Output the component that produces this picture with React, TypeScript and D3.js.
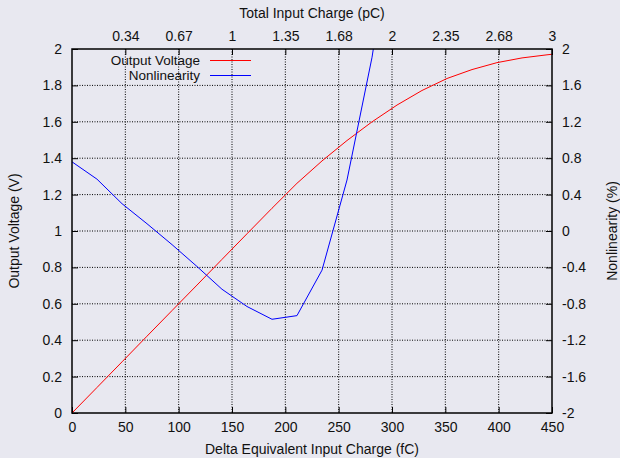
import { useEffect, useRef } from 'react'
import * as d3 from 'd3'

// bottom axis: delta equivalent input charge (fC)
const xTicks = [0, 50, 100, 150, 200, 250, 300, 350, 400, 450]
// top axis labels (pC), placed on the bottom ticks 50..450
const topLabels = ['0.34', '0.67', '1', '1.35', '1.68', '2', '2.35', '2.68', '3']

// Output Voltage (V)
const voltX = [0, 23.4, 46.9, 70.3, 93.8, 117.2, 140.6, 164.1, 187.5, 210.9, 234.4, 257.8, 281.3, 304.7, 328.1, 351.6, 375, 398.4, 421.9, 445.3, 450]
const voltY = [0, 0.14, 0.281, 0.422, 0.563, 0.703, 0.844, 0.985, 1.125, 1.262, 1.385, 1.497, 1.6, 1.692, 1.772, 1.838, 1.887, 1.925, 1.951, 1.968, 1.971]

// Nonlinearity (%)
const nlX = [0, 23.4, 46.9, 70.3, 93.8, 117.2, 140.6, 164.1, 187.5, 210.9, 234.4, 257.8, 281.3, 304.7]
const nlY = [0.76, 0.57, 0.30, 0.08, -0.15, -0.39, -0.64, -0.83, -0.97, -0.93, -0.43, 0.56, 1.91, 3.7]

const yTicks = [0, 0.2, 0.4, 0.6, 0.8, 1, 1.2, 1.4, 1.6, 1.8, 2]
const y2Ticks = [-2, -1.6, -1.2, -0.8, -0.4, 0, 0.4, 0.8, 1.2, 1.6, 2]

const W = 620
const H = 458
const FONT = '"Liberation Sans", Arial, sans-serif'

export default function App() {
  const svgRef = useRef<SVGSVGElement>(null)

  useEffect(() => {
    if (!svgRef.current) return
    const m = { top: 49, right: 68, bottom: 45, left: 72 }
    const w = W - m.left - m.right
    const h = H - m.top - m.bottom

    const svg = d3.select(svgRef.current)
    svg.selectAll('*').remove()

    svg.append('rect').attr('width', W).attr('height', H).attr('fill', '#e8e8f0')

    const g = svg.append('g').attr('transform', `translate(${m.left},${m.top})`)

    const x = d3.scaleLinear().domain([0, 450]).range([0, w])
    const y = d3.scaleLinear().domain([0, 2]).range([h, 0])
    const y2 = d3.scaleLinear().domain([-2, 2]).range([h, 0])

    svg.append('clipPath').attr('id', 'plot-clip')
      .append('rect').attr('width', w).attr('height', h)

    // dotted grid
    g.append('g').selectAll('line')
      .data(xTicks.slice(1, -1))
      .enter().append('line')
      .attr('x1', d => x(d)).attr('x2', d => x(d))
      .attr('y1', 0).attr('y2', h)
      .attr('stroke', '#000').attr('stroke-width', 1)
      .attr('stroke-dasharray', '1,1.5')
    g.append('g').selectAll('line')
      .data(yTicks.slice(1, -1))
      .enter().append('line')
      .attr('x1', 0).attr('x2', w)
      .attr('y1', d => y(d)).attr('y2', d => y(d))
      .attr('stroke', '#000').attr('stroke-width', 1)
      .attr('stroke-dasharray', '1,1.5')

    const tickLen = 6
    const styleText = (sel: any, size = 14) => sel.attr('fill', '#111').attr('font-size', `${size}px`).attr('font-family', FONT)

    // bottom axis
    g.append('g')
      .attr('transform', `translate(0,${h})`)
      .call(d3.axisBottom(x).tickValues(xTicks).tickSize(-tickLen).tickPadding(9).tickFormat(d => String(d)))
      .call(ax => ax.select('.domain').remove())
      .call(ax => ax.selectAll('.tick line').attr('stroke', '#000'))
      .call(ax => styleText(ax.selectAll('text')))

    // top axis
    g.append('g')
      .call(d3.axisTop(x).tickValues(xTicks.slice(1)).tickSize(-tickLen).tickPadding(8)
        .tickFormat((_d, i) => topLabels[i]))
      .call(ax => ax.select('.domain').remove())
      .call(ax => ax.selectAll('.tick line').attr('stroke', '#000'))
      .call(ax => styleText(ax.selectAll('text')))

    // left axis
    g.append('g')
      .call(d3.axisLeft(y).tickValues(yTicks).tickSize(-tickLen).tickPadding(10).tickFormat(d => String(d)))
      .call(ax => ax.select('.domain').remove())
      .call(ax => ax.selectAll('.tick line').attr('stroke', '#000'))
      .call(ax => styleText(ax.selectAll('text')))

    // right axis
    g.append('g')
      .attr('transform', `translate(${w},0)`)
      .call(d3.axisRight(y2).tickValues(y2Ticks).tickSize(-tickLen).tickPadding(10).tickFormat(d => String(d)))
      .call(ax => ax.select('.domain').remove())
      .call(ax => ax.selectAll('.tick line').attr('stroke', '#000'))
      .call(ax => styleText(ax.selectAll('text')))

    // series
    const voltLine = d3.line<number>().x((_d, i) => x(voltX[i])).y(d => y(d))
    const nlLine = d3.line<number>().x((_d, i) => x(nlX[i])).y(d => y2(d))

    const plot = g.append('g').attr('clip-path', 'url(#plot-clip)')
    plot.append('path').datum(voltY).attr('d', voltLine)
      .attr('fill', 'none').attr('stroke', '#ff0000').attr('stroke-width', 1)
    plot.append('path').datum(nlY).attr('d', nlLine)
      .attr('fill', 'none').attr('stroke', '#0000ff').attr('stroke-width', 1)

    // border
    g.append('rect').attr('width', w).attr('height', h)
      .attr('fill', 'none').attr('stroke', '#000').attr('stroke-width', 1.5)

    // legend
    const legend = [
      { label: 'Output Voltage', color: '#ff0000' },
      { label: 'Nonlinearity', color: '#0000ff' },
    ]
    legend.forEach((d, i) => {
      const ly = 11.5 + i * 15
      g.append('text')
        .attr('x', 128).attr('y', ly + 4.5)
        .attr('text-anchor', 'end')
        .call(styleText, 13.5)
        .text(d.label)
      g.append('line')
        .attr('x1', 138).attr('x2', 179)
        .attr('y1', ly).attr('y2', ly)
        .attr('stroke', d.color).attr('stroke-width', 1)
    })

    // axis titles
    svg.append('text')
      .attr('x', m.left + w / 2).attr('y', 18)
      .attr('text-anchor', 'middle').call(styleText)
      .text('Total Input Charge (pC)')
    svg.append('text')
      .attr('x', m.left + w / 2).attr('y', 454)
      .attr('text-anchor', 'middle').call(styleText)
      .text('Delta Equivalent Input Charge (fC)')
    svg.append('text')
      .attr('transform', `translate(19,${m.top + h / 2}) rotate(-90)`)
      .attr('text-anchor', 'middle').call(styleText)
      .text('Output Voltage (V)')
    svg.append('text')
      .attr('transform', `translate(617,${m.top + h / 2}) rotate(-90)`)
      .attr('text-anchor', 'middle').call(styleText)
      .text('Nonlinearity (%)')
  }, [])

  return (
    <div style={{ position: 'absolute', left: 0, top: 0 }}>
      <svg ref={svgRef} width={W} height={H} style={{ display: 'block' }} />
    </div>
  )
}
